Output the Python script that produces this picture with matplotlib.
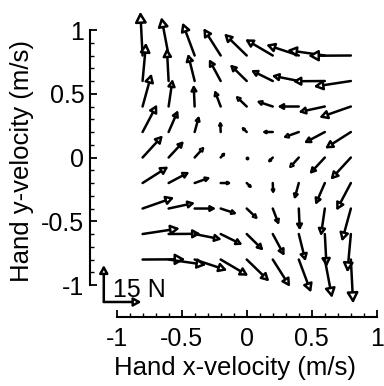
import matplotlib
matplotlib.use("Agg")
import matplotlib.pyplot as plt
from matplotlib.patches import FancyArrowPatch

# grid of hand velocities (m/s)
vel_x = [-0.8, -0.6, -0.4, -0.2, 0.0, 0.2, 0.4, 0.6, 0.8]
vel_y = [0.8, 0.6, 0.4, 0.2, 0.0, -0.2, -0.4, -0.6, -0.8]

# force components (N), rows follow vel_y, columns follow vel_x
force_x = [
    [-0.9, -2.9, -4.9, -6.9, -9.0, -11.0, -13.0, -15.0, -17.0],
    [1.4, -0.7, -2.7, -4.7, -6.7, -8.7, -10.8, -12.8, -14.8],
    [3.6, 1.6, -0.4, -2.5, -4.5, -6.5, -8.5, -10.5, -12.6],
    [5.8, 3.8, 1.8, -0.2, -2.2, -4.3, -6.3, -8.3, -10.3],
    [8.1, 6.1, 4.0, 2.0, 0.0, -2.0, -4.0, -6.1, -8.1],
    [10.3, 8.3, 6.3, 4.3, 2.2, 0.2, -1.8, -3.8, -5.8],
    [12.6, 10.5, 8.5, 6.5, 4.5, 2.5, 0.4, -1.6, -3.6],
    [14.8, 12.8, 10.8, 8.7, 6.7, 4.7, 2.7, 0.7, -1.4],
    [17.0, 15.0, 13.0, 11.0, 9.0, 6.9, 4.9, 2.9, 0.9],
]
force_y = [
    [17.8, 15.6, 13.4, 11.1, 8.9, 6.6, 4.4, 2.2, -0.1],
    [15.6, 13.4, 11.1, 8.9, 6.7, 4.4, 2.2, -0.1, -2.3],
    [13.4, 11.2, 8.9, 6.7, 4.4, 2.2, 0.0, -2.3, -4.5],
    [11.2, 8.9, 6.7, 4.5, 2.2, 0.0, -2.3, -4.5, -6.7],
    [9.0, 6.7, 4.5, 2.2, 0.0, -2.2, -4.5, -6.7, -9.0],
    [6.7, 4.5, 2.3, 0.0, -2.2, -4.5, -6.7, -8.9, -11.2],
    [4.5, 2.3, 0.0, -2.2, -4.4, -6.7, -8.9, -11.2, -13.4],
    [2.3, 0.1, -2.2, -4.4, -6.7, -8.9, -11.1, -13.4, -15.6],
    [0.1, -2.2, -4.4, -6.6, -8.9, -11.1, -13.4, -15.6, -17.8],
]

tick_vals = [-1, -0.5, 0, 0.5, 1]
tick_labels = ["-1", "-0.5", "0", "0.5", "1"]
minor_vals = [-0.9, -0.8, -0.7, -0.6, -0.4, -0.3, -0.2, -0.1,
              0.1, 0.2, 0.3, 0.4, 0.6, 0.7, 0.8, 0.9]

scale_force = 15  # N, scale bar
n_to_data = 0.0193  # data units per newton

plt.rcParams["font.family"] = ["Liberation Sans", "DejaVu Sans"]

fig = plt.figure(figsize=(3.84, 3.86), dpi=100)
ax = fig.add_axes([0.234, 0.179, 0.756, 0.808])
ax.set_xlim(-1.205, 1.025)
ax.set_ylim(-1.25, 1.196)


def draw_arrow(x0, y0, fx, fy, head=None):
    x1 = x0 + fx * n_to_data
    y1 = y0 + fy * n_to_data
    mag = (fx ** 2 + fy ** 2) ** 0.5
    # head grows with arrow length, like matlab quiver
    ms = head if head else 0.68 * mag
    arr = FancyArrowPatch((x0, y0), (x1, y1),
                          arrowstyle="-|>,head_length=0.5,head_width=0.28",
                          mutation_scale=ms, lw=1.8, fc="white", ec="black",
                          shrinkA=0, shrinkB=0, clip_on=False, zorder=3)
    ax.add_patch(arr)


for i, vy in enumerate(vel_y):
    for j, vx in enumerate(vel_x):
        fx, fy = force_x[i][j], force_y[i][j]
        if (fx ** 2 + fy ** 2) ** 0.5 < 0.5:
            ax.plot(vx, vy, "o", color="black", markersize=1.8)
        else:
            draw_arrow(vx, vy, fx, fy)

# scale bar
sx, sy = -1.098, -1.133
draw_arrow(sx, sy, 0, scale_force, head=9)
draw_arrow(sx, sy, scale_force, 0, head=9)
ax.text(-1.03, -1.09, "15 N", fontsize=18, va="baseline", ha="left")

for side in ["top", "right"]:
    ax.spines[side].set_visible(False)
ax.spines["left"].set_bounds(-1, 1)
ax.spines["bottom"].set_bounds(-1, 1)
ax.spines["left"].set_linewidth(1.5)
ax.spines["bottom"].set_linewidth(1.5)

ax.set_xticks(tick_vals)
ax.set_xticklabels(tick_labels)
ax.set_yticks(tick_vals)
ax.set_yticklabels(tick_labels)
ax.set_xticks(minor_vals, minor=True)
ax.set_yticks(minor_vals, minor=True)
ax.tick_params(which="major", direction="in", length=5, width=1.3, labelsize=18, pad=4)
ax.tick_params(axis="x", which="major", pad=7)
ax.tick_params(which="minor", direction="in", length=3, width=1.0)

ax.set_xlabel("Hand x-velocity (m/s)", fontsize=18.5, labelpad=4)
ax.set_ylabel("Hand y-velocity (m/s)", fontsize=18.5, labelpad=5)

fig.savefig("out.png", dpi=100)
